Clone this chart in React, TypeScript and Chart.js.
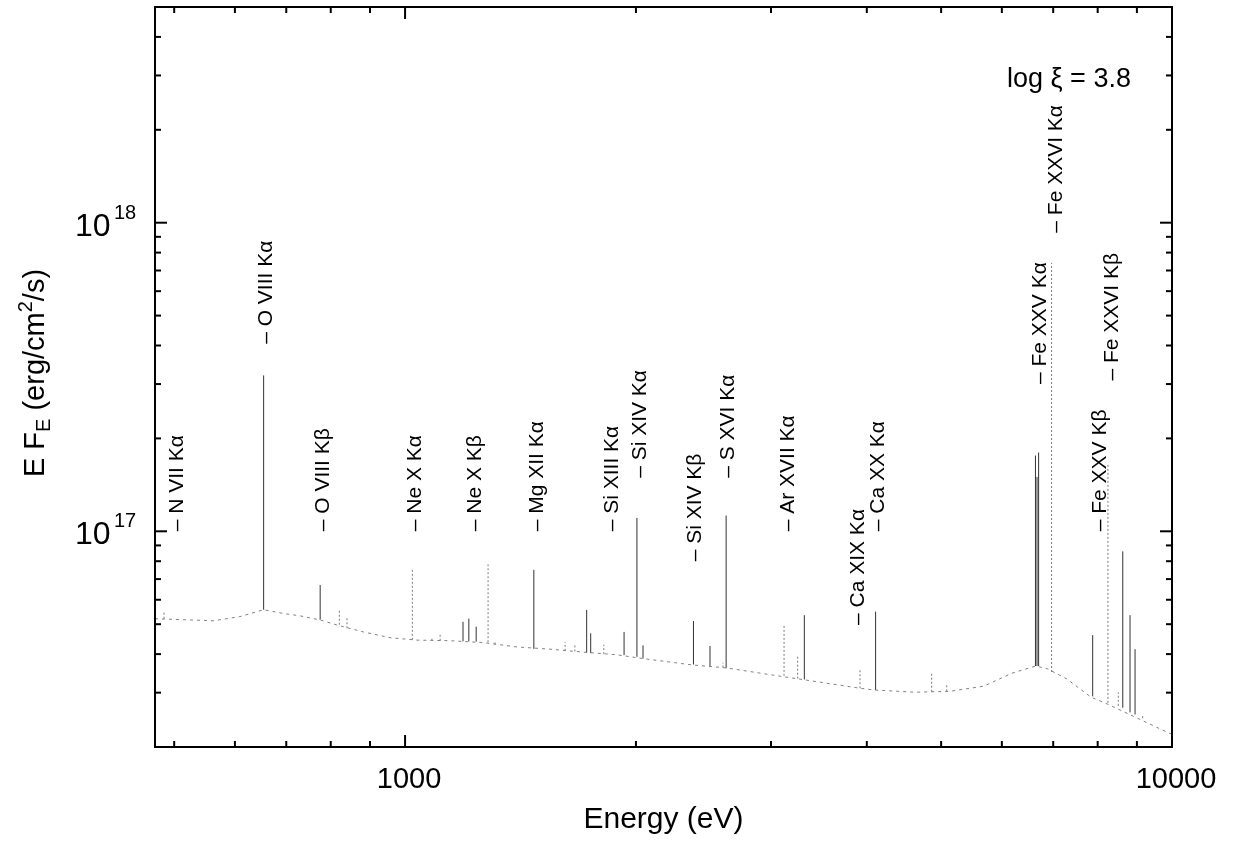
import React, { useEffect, useRef } from "react";
import { Chart, registerables } from "chart.js";

Chart.register(...registerables);

// ---------------- data ----------------
const xMin = 472;
const xMax = 10000;
const yMin = 2e16;
const yMax = 5e18;

// continuum (energy in eV, E F_E in erg/cm^2/s)
const continuumEnergy = [
  472, 562, 609, 654, 693, 730, 775, 815, 882, 956, 1036, 1145, 1264, 1399, 1545, 1707, 1888, 2056,
  2367, 2621, 3064, 3323, 3919, 4088, 4623, 5136, 5686, 6185, 6646, 6888, 7296, 7843, 8253, 8950,
  9792, 10000,
];
const continuumFlux = [
  5.21e16, 5.13e16, 5.29e16, 5.57e16, 5.42e16, 5.32e16, 5.16e16, 4.97e16, 4.72e16, 4.52e16, 4.44e16,
  4.42e16, 4.36e16, 4.22e16, 4.15e16, 4.06e16, 3.98e16, 3.86e16, 3.69e16, 3.61e16, 3.4e16, 3.3e16,
  3.1e16, 3.06e16, 3.01e16, 3.03e16, 3.15e16, 3.47e16, 3.66e16, 3.58e16, 3.32e16, 2.9e16, 2.75e16,
  2.5e16, 2.25e16, 2.2e16,
];

// strong (solid) emission lines
const strongLineEnergy = [
  654, 775, 1190, 1211, 1238, 1472, 1725, 1746, 1930, 2006, 2043, 2377, 2498, 2622, 3316, 4107, 6637,
  6668, 6700, 7881, 8626, 8816, 8950,
];
const strongLineBase = [
  5.57e16, 5.17e16, 4.4e16, 4.4e16, 4.39e16, 4.16e16, 4.04e16, 4.03e16, 3.97e16, 3.92e16, 3.87e16,
  3.7e16, 3.66e16, 3.6e16, 3.31e16, 3.06e16, 3.66e16, 3.66e16, 3.66e16, 2.92e16, 2.68e16, 2.59e16,
  2.55e16,
];
const strongLinePeak = [
  3.2e17, 6.7e16, 5.09e16, 5.21e16, 4.91e16, 7.5e16, 5.56e16, 4.67e16, 4.72e16, 1.105e17, 4.27e16,
  5.12e16, 4.25e16, 1.125e17, 5.35e16, 5.49e16, 1.76e17, 1.5e17, 1.8e17, 4.61e16, 8.61e16, 5.35e16,
  4.15e16,
];

// faint (dotted) emission lines
const faintLineEnergy = [
  485, 821, 840, 1022, 1084, 1111, 1283, 1310, 1617, 1665, 1816, 2597, 3120, 3250, 3919, 4860, 5085,
  6966, 8250, 8511, 9157,
];
const faintLineBase = [
  5.21e16, 4.98e16, 4.85e16, 4.45e16, 4.42e16, 4.42e16, 4.37e16, 4.3e16, 4.1e16, 4.08e16, 4.0e16,
  3.62e16, 3.4e16, 3.33e16, 3.1e16, 3.02e16, 3.03e16, 3.5e16, 2.78e16, 2.72e16, 2.48e16,
];
const faintLinePeak = [
  5.45e16, 5.56e16, 5.29e16, 7.58e16, 4.52e16, 4.62e16, 7.81e16, 4.4e16, 4.38e16, 4.33e16, 4.29e16,
  3.75e16, 4.97e16, 3.97e16, 3.6e16, 3.48e16, 3.2e16, 7.41e17, 1.65e17, 3.01e16, 2.55e16,
];

// line identification labels
const lineLabels = [
  "– N VII Kα",
  "– O VIII Kα",
  "– O VIII Kβ",
  "– Ne X Kα",
  "– Ne X Kβ",
  "– Mg XII Kα",
  "– Si XIII Kα",
  "– Si XIV Kα",
  "– Si XIV Kβ",
  "– S XVI Kα",
  "– Ar XVII Kα",
  "– Ca XIX Kα",
  "– Ca XX Kα",
  "– Fe XXV Kα",
  "– Fe XXVI Kα",
  "– Fe XXV Kβ",
  "– Fe XXVI Kβ",
];
const lineLabelEnergy = [
  504, 660, 782, 1030, 1234, 1488, 1860, 2025, 2388, 2640, 3161, 3899, 4141, 6726, 7072, 8056, 8345,
];
const lineLabelFlux = [
  1e17, 4.05e17, 1e17, 1e17, 1e17, 1e17, 1e17, 1.49e17, 7.99e16, 1.49e17, 1e17, 4.97e16, 1e17,
  3.0e17, 9.28e17, 1e17, 3.08e17,
];

const annotationText = "log ξ = 3.8";
const xTitle = "Energy (eV)";

const xMajorTicks = [1000, 10000];
const xTickLabels = ["1000", "10000"];
const xMinorTicks = [500, 600, 700, 800, 900, 2000, 3000, 4000, 5000, 6000, 7000, 8000, 9000];
const yMajorTicks = [1e17, 1e18];
const yTickBase = ["10", "10"];
const yTickExponents = ["17", "18"];
const yMinorTicks = [
  2e16, 3e16, 4e16, 5e16, 6e16, 7e16, 8e16, 9e16, 2e17, 3e17, 4e17, 5e17, 6e17, 7e17, 8e17, 9e17,
  2e18, 3e18, 4e18,
];

// ---------------- helpers ----------------
const FONT = "'Liberation Sans', Arial, Helvetica, sans-serif";

function spikePoints(energy: number[], base: number[], peak: number[]) {
  const pts: { x: number; y: number | null }[] = [];
  energy.forEach((e, i) => {
    pts.push({ x: e, y: base[i] });
    pts.push({ x: e, y: peak[i] });
    pts.push({ x: e, y: null });
  });
  return pts;
}

const decorPlugin = {
  id: "decor",
  afterDraw(chart: any) {
    const { ctx, chartArea: a, scales } = chart;
    const xs = scales.x;
    const ys = scales.y;
    ctx.save();
    ctx.strokeStyle = "#000";
    ctx.fillStyle = "#000";

    const seg = (x1: number, y1: number, x2: number, y2: number, w: number) => {
      ctx.lineWidth = w;
      ctx.beginPath();
      ctx.moveTo(x1, y1);
      ctx.lineTo(x2, y2);
      ctx.stroke();
    };

    // x ticks (bottom & top, inward)
    xMajorTicks.forEach((v) => {
      const p = xs.getPixelForValue(v);
      seg(p, a.bottom, p, a.bottom - 12, 2);
      seg(p, a.top, p, a.top + 12, 2);
    });
    xMinorTicks.forEach((v) => {
      const p = xs.getPixelForValue(v);
      seg(p, a.bottom, p, a.bottom - 6, 2);
      seg(p, a.top, p, a.top + 6, 2);
    });
    // y ticks (left & right, inward)
    yMajorTicks.forEach((v) => {
      const p = ys.getPixelForValue(v);
      seg(a.left, p, a.left + 12, p, 2);
      seg(a.right, p, a.right - 12, p, 2);
    });
    yMinorTicks.forEach((v) => {
      const p = ys.getPixelForValue(v);
      seg(a.left, p, a.left + 6, p, 2);
      seg(a.right, p, a.right - 6, p, 2);
    });

    // frame
    ctx.lineWidth = 2;
    ctx.strokeRect(a.left, a.top, a.right - a.left, a.bottom - a.top);

    // x tick labels
    ctx.font = `29px ${FONT}`;
    ctx.textAlign = "center";
    ctx.textBaseline = "alphabetic";
    xMajorTicks.forEach((v, i) => {
      const p = xs.getPixelForValue(v);
      ctx.fillText(xTickLabels[i], p + 4, a.bottom + 41);
    });

    // y tick labels 10^n
    yMajorTicks.forEach((v, i) => {
      const p = ys.getPixelForValue(v);
      ctx.textAlign = "left";
      ctx.font = `32px ${FONT}`;
      ctx.fillText(yTickBase[i], a.left - 80, p + 13);
      ctx.font = `20px ${FONT}`;
      ctx.fillText(yTickExponents[i], a.left - 41, p - 4);
    });

    // x axis title
    ctx.font = `30px ${FONT}`;
    ctx.textAlign = "center";
    ctx.fillText(xTitle, (a.left + a.right) / 2, a.bottom + 81);

    // y axis title with sub/superscripts
    const parts = [
      { t: "E F", s: 29, dy: 0 },
      { t: "E", s: 20, dy: 6 },
      { t: " (erg/cm", s: 29, dy: 0 },
      { t: "2", s: 20, dy: -12 },
      { t: "/s)", s: 29, dy: 0 },
    ];
    let total = 0;
    parts.forEach((p) => {
      ctx.font = `${p.s}px ${FONT}`;
      total += ctx.measureText(p.t).width;
    });
    ctx.save();
    ctx.translate(44, (a.top + a.bottom) / 2 - 4);
    ctx.rotate(-Math.PI / 2);
    ctx.textAlign = "left";
    let cx = -total / 2;
    parts.forEach((p) => {
      ctx.font = `${p.s}px ${FONT}`;
      ctx.fillText(p.t, cx, p.dy);
      cx += ctx.measureText(p.t).width;
    });
    ctx.restore();

    // annotation
    ctx.font = `27px ${FONT}`;
    ctx.textAlign = "left";
    ctx.fillText(annotationText, 1007, 87);

    // line labels
    ctx.font = `21px ${FONT}`;
    ctx.textAlign = "left";
    ctx.textBaseline = "middle";
    lineLabels.forEach((lab, i) => {
      const px = xs.getPixelForValue(lineLabelEnergy[i]);
      const py = ys.getPixelForValue(lineLabelFlux[i]);
      ctx.save();
      ctx.translate(px, py);
      ctx.rotate(-Math.PI / 2);
      ctx.fillText(lab, 0, 0);
      ctx.restore();
    });

    ctx.restore();
  },
};

export default function App() {
  const canvasRef = useRef<HTMLCanvasElement | null>(null);

  useEffect(() => {
    const canvas = canvasRef.current;
    if (!canvas) return;
    const continuum = continuumEnergy.map((e, i) => ({ x: e, y: continuumFlux[i] }));
    const chart = new Chart(canvas, {
      type: "scatter",
      data: {
        datasets: [
          {
            data: continuum,
            showLine: true,
            borderColor: "#808080",
            borderWidth: 1,
            borderDash: [3, 4],
            pointRadius: 0,
            tension: 0,
          },
          {
            data: spikePoints(faintLineEnergy, faintLineBase, faintLinePeak),
            showLine: true,
            spanGaps: false,
            borderColor: "#7a7a7a",
            borderWidth: 1,
            borderDash: [2, 2],
            pointRadius: 0,
          },
          {
            data: spikePoints(strongLineEnergy, strongLineBase, strongLinePeak),
            showLine: true,
            spanGaps: false,
            borderColor: "#333333",
            borderWidth: 1,
            pointRadius: 0,
          },
        ],
      } as any,
      options: {
        animation: false,
        responsive: false,
        devicePixelRatio: 1,
        layout: { padding: { left: 155, right: 62, top: 7, bottom: 101 } },
        plugins: { legend: { display: false }, tooltip: { enabled: false } },
        events: [],
        scales: {
          x: { type: "logarithmic", min: xMin, max: xMax, display: false },
          y: { type: "logarithmic", min: yMin, max: yMax, display: false },
        },
      } as any,
      plugins: [decorPlugin],
    });
    return () => chart.destroy();
  }, []);

  return (
    <div style={{ position: "fixed", left: 0, top: 0, width: 1234, height: 848, background: "#fff" }}>
      <canvas ref={canvasRef} width={1234} height={848} style={{ display: "block" }} />
    </div>
  );
}
